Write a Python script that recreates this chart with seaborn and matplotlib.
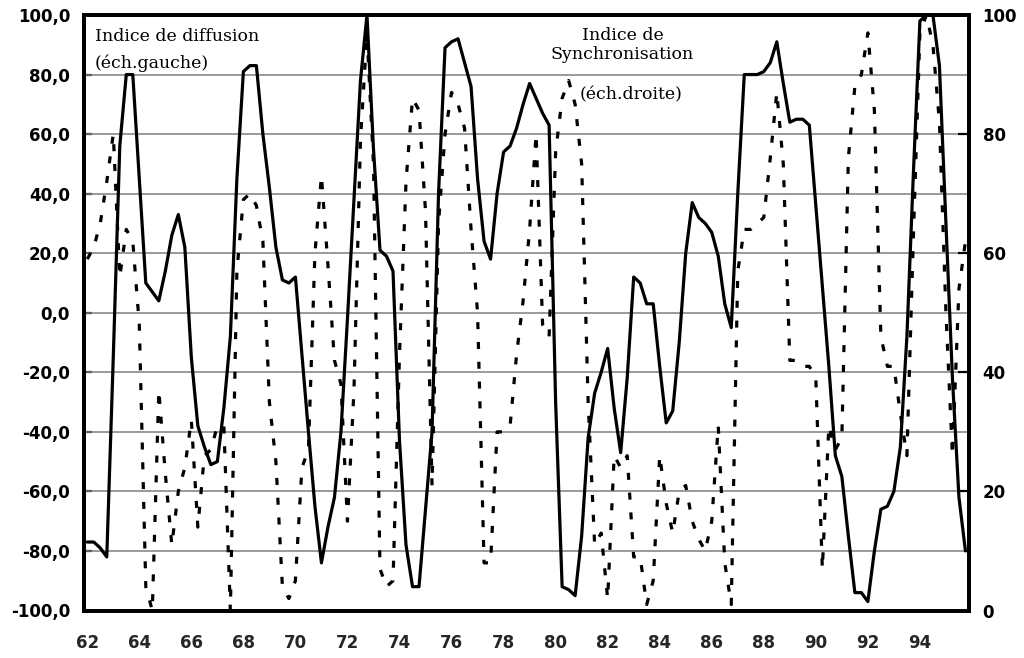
import matplotlib
matplotlib.use("Agg")
import matplotlib.pyplot as plt
import numpy as np
import pandas as pd
import seaborn as sns

# Quarterly observations, 1962Q1 .. 1995Q4
quarters = pd.period_range("1962Q1", "1995Q4", freq="Q")

# Indice de diffusion (left scale, -100..100)
diffusion = [
    -77, -77, -79, -82, -15, 56, 80, 80, 45, 10, 7, 4,
    14, 26, 33, 22, -15, -38, -45, -51, -50, -32, -8, 45,
    81, 83, 83, 60, 42, 22, 11, 10, 12, -14, -40, -65,
    -84, -72, -62, -40, -2, 38, 78, 100, 55, 21, 19, 14,
    -43, -78, -92, -92, -66, -40, 40, 89, 91, 92, 84, 76,
    45, 24, 18, 40, 54, 56, 62, 70, 77, 72, 67, 63,
    -30, -92, -93, -95, -75, -42, -27, -20, -12, -32, -47, -22,
    12, 10, 3, 3, -18, -37, -33, -10, 20, 37, 32, 30,
    27, 19, 3, -5, 40, 80, 80, 80, 81, 84, 91, 77,
    64, 65, 65, 63, 36, 9, -18, -48, -55, -75, -94, -94,
    -97, -80, -66, -65, -60, -45, -8, 47, 98, 100, 100, 83,
    30, -22, -62, -80,
]

# Indice de synchronisation (right scale, 0..100)
synchro = [
    59, 61, 65, 72, 80, 56, 64, 62, 48, 4, 0, 37,
    23, 11, 20, 24, 32, 14, 26, 27, 31, 31, 0, 57,
    69, 70, 68, 62, 35, 25, 4, 2, 5, 24, 27, 60,
    73, 58, 42, 38, 15, 37, 79, 97, 75, 7, 4, 5,
    43, 72, 86, 84, 67, 21, 65, 80, 87, 85, 81, 64,
    50, 8, 8, 30, 30, 31, 43, 52, 64, 80, 48, 46,
    77, 86, 89, 85, 75, 35, 11, 13, 2, 26, 24, 26,
    9, 9, 1, 5, 26, 18, 13, 20, 21, 15, 12, 10,
    15, 31, 8, 1, 57, 64, 64, 65, 66, 76, 87, 75,
    42, 42, 41, 41, 39, 7, 31, 27, 29, 76, 88, 90,
    97, 84, 46, 41, 41, 33, 26, 63, 97, 100, 95, 82,
    50, 26, 54, 62,
]

year_labels = ["62", "64", "66", "68", "70", "72", "74", "76", "78",
               "80", "82", "84", "86", "88", "90", "92", "94"]
left_ticks = [-100, -80, -60, -40, -20, 0, 20, 40, 60, 80, 100]
right_ticks = [0, 20, 40, 60, 80, 100]

# Position of each quarter in two-digit years, centred in its quarter
t = (quarters.year - 1900) + (quarters.quarter - 0.5) / 4
df = pd.DataFrame({"t": np.asarray(t, dtype=float),
                   "diffusion": diffusion, "synchro": synchro})

sns.set_style("white")
plt.rcParams["font.family"] = ["DejaVu Sans"]

W, H = 1024, 658
fig = plt.figure(figsize=(W / 100, H / 100), dpi=100)
left, right, top, bottom = 84, 968.7, 15, 610.5
ax = fig.add_axes([left / W, 1 - bottom / H, (right - left) / W, (bottom - top) / H])
ax2 = ax.twinx()

sns.lineplot(data=df, x="t", y="diffusion", ax=ax, color="black",
             linewidth=2.3, zorder=3)
sns.lineplot(data=df, x="t", y="synchro", ax=ax2, color="black",
             linewidth=2.3, linestyle=(0, (2.2, 4.0)), dash_capstyle="butt",
             zorder=3)

# Scales
ax.set_xlim(62, 96)
ax.set_ylim(-100, 100)
ax2.set_ylim(0, 100)

# Horizontal grid on the left scale
for v in left_ticks[1:-1]:
    ax.axhline(v, color="#7f7f7f", linewidth=1.1, zorder=1)

label_font = dict(family="DejaVu Sans", weight="bold", size=12)

ax.set_yticks(left_ticks)
ax.set_yticklabels([f"{v:.1f}".replace(".", ",") for v in left_ticks], **label_font)
ax.tick_params(axis="y", direction="in", length=6, width=1.6, pad=10, colors="black")

ax2.set_yticks(right_ticks)
ax2.set_yticklabels([str(v) for v in right_ticks], **label_font)
ax2.tick_params(axis="y", direction="in", length=8, width=1.6, pad=10, colors="black")

# Yearly tick marks, labels every second year on the first quarter
ax.set_xticks(np.arange(62, 97, 1), minor=True)
ax.set_xticks([int(s) + 0.125 for s in year_labels])
ax.set_xticklabels(year_labels, **label_font)
ax.tick_params(axis="x", which="minor", direction="in", length=6, width=1.6)
ax.tick_params(axis="x", which="major", length=0, pad=17)

ax.set_xlabel("")
ax.set_ylabel("")
ax2.set_ylabel("")

for a in (ax, ax2):
    for s in a.spines.values():
        s.set_visible(True)
        s.set_color("black")
        s.set_linewidth(2.8)

# Series annotations
note_font = dict(family="DejaVu Serif", size=12.5, color="black")
fig.text(95 / W, 1 - 41.3 / H, "Indice de diffusion", ha="left", va="baseline", **note_font)
fig.text(95 / W, 1 - 68 / H, "(éch.gauche)", ha="left", va="baseline", **note_font)
fig.text(622.5 / W, 1 - 39.7 / H, "Indice de", ha="center", va="baseline", **note_font)
fig.text(622.5 / W, 1 - 59 / H, "Synchronisation", ha="center", va="baseline", **note_font)
fig.text(580 / W, 1 - 99 / H, "(éch.droite)", ha="left", va="baseline", **note_font)

fig.savefig("out.png", dpi=100)
